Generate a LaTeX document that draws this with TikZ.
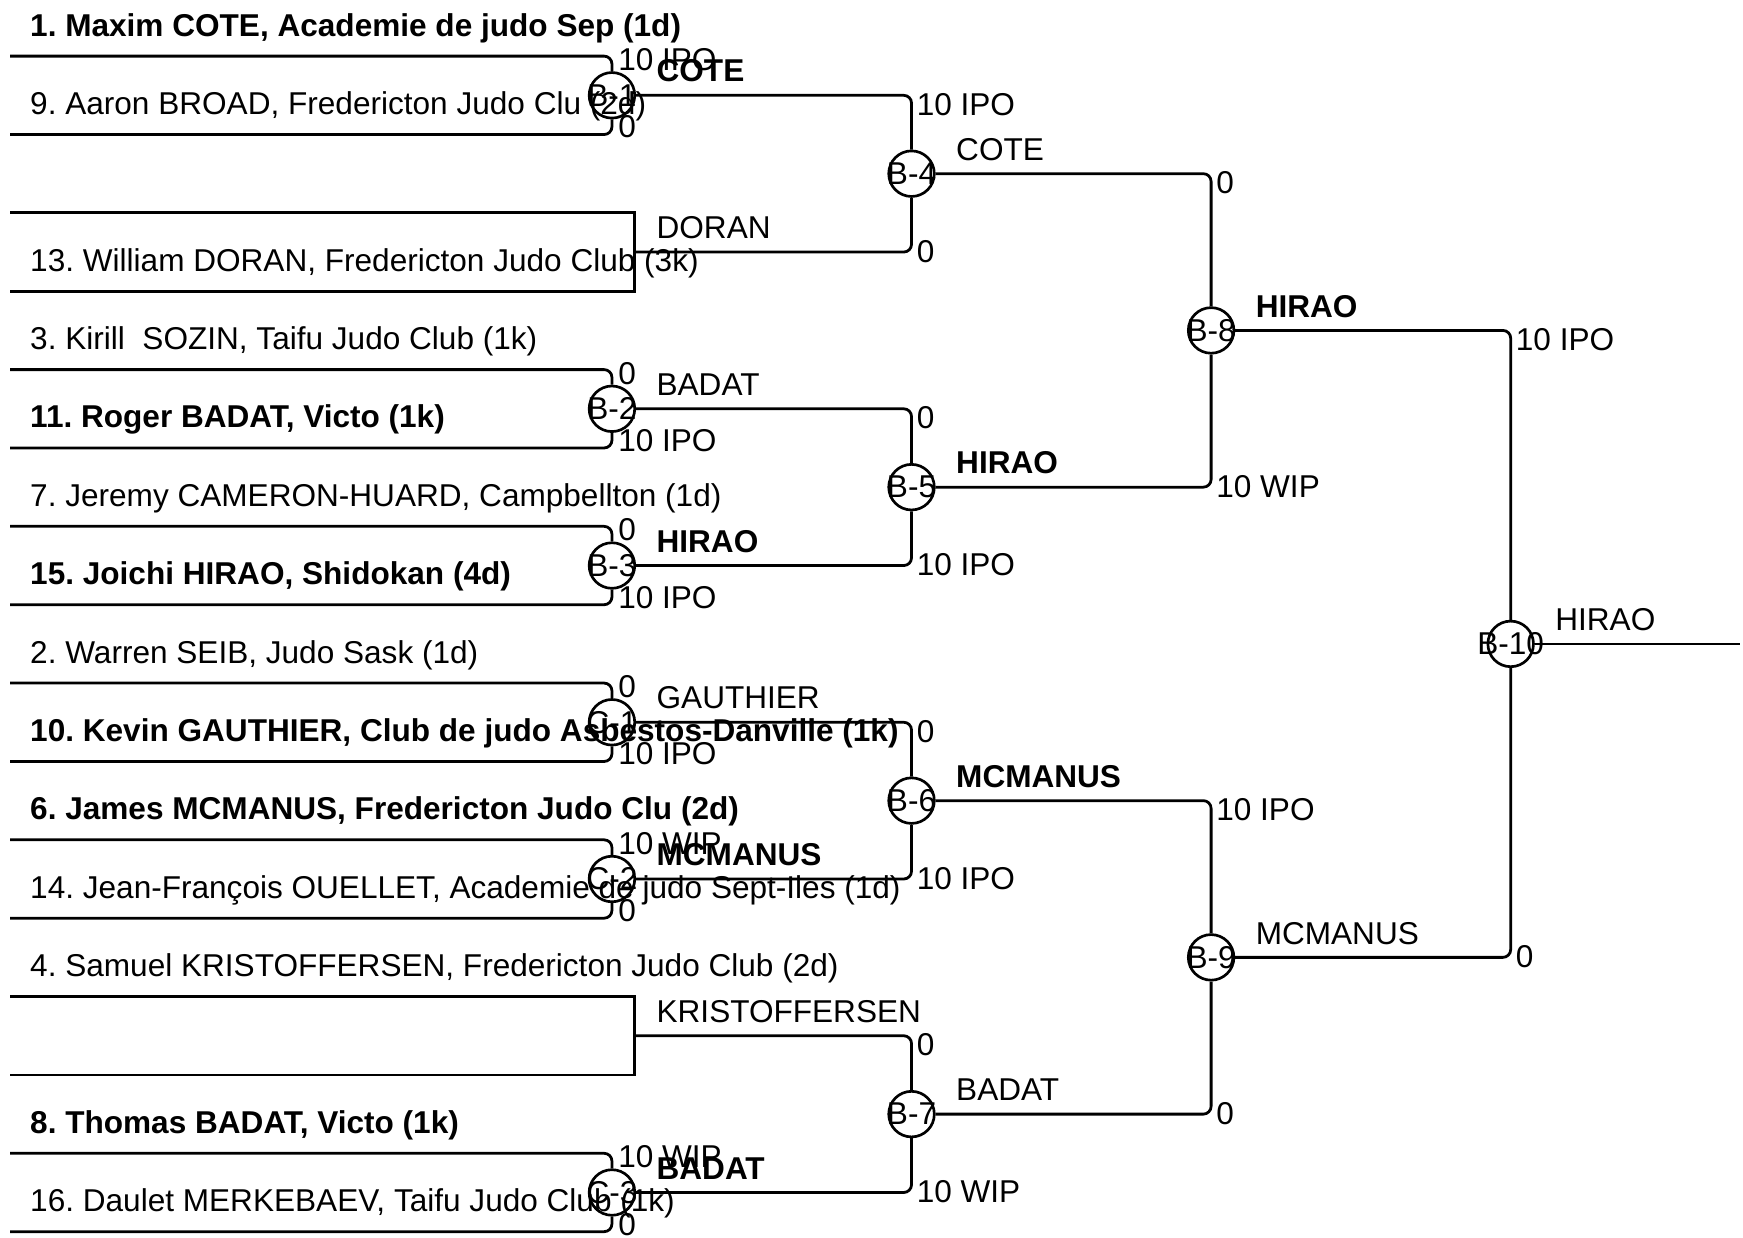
\documentclass[tikz,border=0pt]{standalone}
\usepackage{fontspec}
\setmainfont{Liberation Sans}
\begin{document}
\frenchspacing
\begin{tikzpicture}[x=1pt,y=-1pt,
  every node/.style={inner sep=0pt, font=\fontsize{28.4}{34}\selectfont\frenchspacing},
  ln/.style={line width=2.5pt, rounded corners=7pt},
  bx/.style={line width=2.5pt},
  mt/.style={draw, circle, line width=2.4pt, minimum size=41pt, inner sep=0pt},
  tx/.style={anchor=base west},
  tb/.style={anchor=base west, font=\fontsize{28.4}{34}\selectfont\bfseries\frenchspacing}]
\useasboundingbox (0,0) rectangle (1568,1113);

% line start points
\coordinate (s0) at (9,50.5);
\coordinate (s1) at (9,121);
\coordinate (s2) at (9,191.5);
\coordinate (s3) at (9,262);
\coordinate (s4) at (9,332.5);
\coordinate (s5) at (9,403);
\coordinate (s6) at (9,473.5);
\coordinate (s7) at (9,544);
\coordinate (s8) at (9,614.5);
\coordinate (s9) at (9,685);
\coordinate (s10) at (9,755.5);
\coordinate (s11) at (9,826);
\coordinate (s12) at (9,896.5);
\coordinate (s13) at (9,967);
\coordinate (s14) at (9,1037.5);
\coordinate (s15) at (9,1108);
% bye boxes
\coordinate (k2) at (571,191.5);
\coordinate (k3) at (571,262);
\coordinate (d1) at (571,226.75);
\coordinate (k12) at (571,896.5);
\coordinate (k13) at (571,967);
\coordinate (d2) at (571,931.75);
\coordinate (fin) at (1565,579.25);

% match circles
\node[mt, label=center:B-1] (b1) at (550.5,85.75) {};
\node[mt, label=center:B-2] (b2) at (550.5,367.75) {};
\node[mt, label=center:B-3] (b3) at (550.5,508.75) {};
\node[mt, label=center:C-1] (c1) at (550.5,649.75) {};
\node[mt, label=center:C-2] (c2) at (550.5,790.75) {};
\node[mt, label=center:C-3] (c3) at (550.5,1072.75) {};
\node[mt, label=center:B-4] (b4) at (820,156.25) {};
\node[mt, label=center:B-5] (b5) at (820,438.25) {};
\node[mt, label=center:B-6] (b6) at (820,720.25) {};
\node[mt, label=center:B-7] (b7) at (820,1002.25) {};
\node[mt, label=center:B-8] (b8) at (1089.5,297.25) {};
\node[mt, label=center:B-9] (b9) at (1089.5,861.25) {};
\node[mt, label=center:B-10] (b10) at (1359,579.25) {};

% round 1 lines
\draw[ln] (s0) -| (b1.north);
\draw[ln] (s1) -| (b1.south);
\draw[bx] (s2) -- (k2) -- (k3) -- (s3);
\draw[ln] (s4) -| (b2.north);
\draw[ln] (s5) -| (b2.south);
\draw[ln] (s6) -| (b3.north);
\draw[ln] (s7) -| (b3.south);
\draw[ln] (s8) -| (c1.north);
\draw[ln] (s9) -| (c1.south);
\draw[ln] (s10) -| (c2.north);
\draw[ln] (s11) -| (c2.south);
\draw[bx] (s12) -- (k12) -- (k13) -- (s13);
\draw[ln] (s14) -| (c3.north);
\draw[ln] (s15) -| (c3.south);
% round 2
\draw[ln] (b1.east) -| (b4.north);
\draw[ln] (d1) -| (b4.south);
\draw[ln] (b2.east) -| (b5.north);
\draw[ln] (b3.east) -| (b5.south);
\draw[ln] (c1.east) -| (b6.north);
\draw[ln] (c2.east) -| (b6.south);
\draw[ln] (d2) -| (b7.north);
\draw[ln] (c3.east) -| (b7.south);
% round 3
\draw[ln] (b4.east) -| (b8.north);
\draw[ln] (b5.east) -| (b8.south);
\draw[ln] (b6.east) -| (b9.north);
\draw[ln] (b7.east) -| (b9.south);
% final
\draw[ln] (b8.east) -| (b10.north);
\draw[ln] (b9.east) -| (b10.south);
\draw[bx] (b10.east) -- (fin);

% competitors
\node[tb] (e0) at (27,32.5) {1. Maxim COTE, Academie de judo Sep (1d)};
\node[tx] (e1) at (27,103) {9. Aaron BROAD, Fredericton Judo Clu (2d)};
\node[tx] (e3) at (27,244) {13. William DORAN, Fredericton Judo Club (3k)};
\node[tx] (e4) at (27,314.5) {3. Kirill\ \ SOZIN, Taifu Judo Club (1k)};
\node[tb] (e5) at (27,385) {11. Roger BADAT, Victo (1k)};
\node[tx] (e6) at (27,455.5) {7. Jeremy CAMERON-HUARD, Campbellton (1d)};
\node[tb] (e7) at (27,526) {15. Joichi HIRAO, Shidokan (4d)};
\node[tx] (e8) at (27,596.5) {2. Warren SEIB, Judo Sask (1d)};
\node[tb] (e9) at (27,667) {10. Kevin GAUTHIER, Club de judo Asbestos-Danville (1k)};
\node[tb] (e10) at (27,737.5) {6. James MCMANUS, Fredericton Judo Clu (2d)};
\node[tx] (e11) at (27,808) {14. Jean-François OUELLET, Academie de judo Sept-Iles (1d)};
\node[tx] (e12) at (27,878.5) {4. Samuel KRISTOFFERSEN, Fredericton Judo Club (2d)};
\node[tb] (e14) at (27,1019.5) {8. Thomas BADAT, Victo (1k)};
\node[tx] (e15) at (27,1090) {16. Daulet MERKEBAEV, Taifu Judo Club (1k)};

% scores round 1
\node[tx] (p1a) at (556,63.5) {10 IPO};
\node[tx] (p1b) at (556,124) {0};
\node[tx] (p2a) at (556,345.5) {0};
\node[tx] (p2b) at (556,406) {10 IPO};
\node[tx] (p3a) at (556,486.5) {0};
\node[tx] (p3b) at (556,547) {10 IPO};
\node[tx] (q1a) at (556,627.5) {0};
\node[tx] (q1b) at (556,688) {10 IPO};
\node[tx] (q2a) at (556,768.5) {10 WIP};
\node[tx] (q2b) at (556,829) {0};
\node[tx] (q3a) at (556,1050.5) {10 WIP};
\node[tx] (q3b) at (556,1111) {0};
% scores round 2
\node[tx] (p4a) at (824.5,103.75) {10 IPO};
\node[tx] (p4b) at (824.5,235.75) {0};
\node[tx] (p5a) at (824.5,385.75) {0};
\node[tx] (p5b) at (824.5,517.75) {10 IPO};
\node[tx] (p6a) at (824.5,667.75) {0};
\node[tx] (p6b) at (824.5,799.75) {10 IPO};
\node[tx] (p7a) at (824.5,949.75) {0};
\node[tx] (p7b) at (824.5,1081.75) {10 WIP};
% scores round 3
\node[tx] (p8a) at (1094,174.25) {0};
\node[tx] (p8b) at (1094,447.25) {10 WIP};
\node[tx] (p9a) at (1094,738.25) {10 IPO};
\node[tx] (p9b) at (1094,1011.25) {0};
% scores final
\node[tx] (p10a) at (1363.5,315.25) {10 IPO};
\node[tx] (p10b) at (1363.5,870.25) {0};

% winners round 1
\node[tb] (w1) at (590.5,73.75) {COTE};
\node[tx] (wd) at (590.5,214.75) {DORAN};
\node[tx] (w2) at (590.5,355.75) {BADAT};
\node[tb] (w3) at (590.5,496.75) {HIRAO};
\node[tx] (v1) at (590.5,637.75) {GAUTHIER};
\node[tb] (v2) at (590.5,778.75) {MCMANUS};
\node[tx] (wk) at (590.5,919.75) {KRISTOFFERSEN};
\node[tb] (v3) at (590.5,1060.75) {BADAT};
% winners round 2
\node[tx] (w4) at (860,144.25) {COTE};
\node[tb] (w5) at (860,426.25) {HIRAO};
\node[tb] (w6) at (860,708.25) {MCMANUS};
\node[tx] (w7) at (860,990.25) {BADAT};
% winners round 3
\node[tb] (w8) at (1129.5,285.25) {HIRAO};
\node[tx] (w9) at (1129.5,849.25) {MCMANUS};
% champion
\node[tx] (w10) at (1399,567.25) {HIRAO};
\end{tikzpicture}
\end{document}
